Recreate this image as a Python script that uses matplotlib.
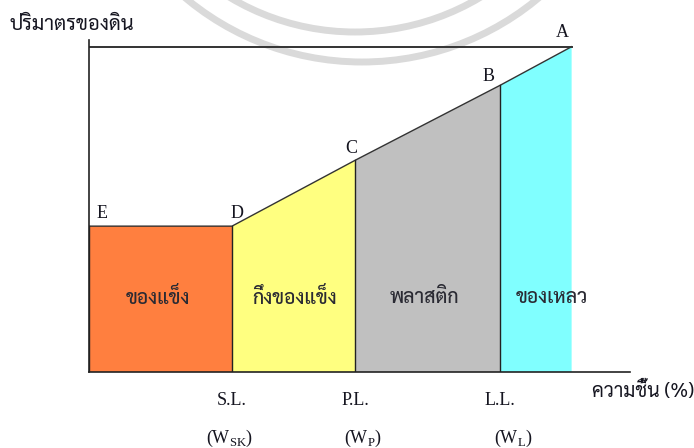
import matplotlib
matplotlib.use("Agg")
import matplotlib.pyplot as plt
from matplotlib.patches import Arc

# points E, D, C, B, A  (moisture, soil volume)
point_names = ['E', 'D', 'C', 'B', 'A']
moisture = [0, 20, 37.2, 57.5, 67.5]
volume = [20.4, 20.4, 29.6, 40.1, 45.5]
# label offsets from each point, in pixels
name_offsets = [(13, 13), (5, 13), (-4, 12), (-12, 9), (-9, 14)]

# states between the points
states = ['ของแข็ง', 'กึ่งของแข็ง', 'พลาสติก', 'ของเหลว']
state_colors = ['#ff7f3f', '#ffff80', '#c0c0c0', '#80ffff']
state_shift = [-3, 1, -3, 16]

limit_labels = ['S.L.', 'P.L.', 'L.L.']
limit_symbols = [r'(W$_{\mathregular{SK}}$)', r'(W$_{\mathregular{P}}$)', r'(W$_{\mathregular{L}}$)']
symbol_shift = [-2, 8, 13]

THAI = ['Sarabun', 'DejaVu Sans']
SERIF = ['Liberation Serif', 'DejaVu Serif']
PX = 0.72  # points per pixel at dpi 100

W, H = 694, 448
fig = plt.figure(figsize=(W / 100, H / 100), dpi=100)

# faint watermark arcs in the background
wm = fig.add_axes([0, 0, 1, 1], zorder=-1)
wm.set_xlim(0, W)
wm.set_ylim(H, 0)
wm.axis('off')
wm.add_patch(Arc((362, -210), 548, 544, theta1=0, theta2=180, color='#dadada', lw=5))
wm.add_patch(Arc((355, -210), 486, 484, theta1=0, theta2=180, color='#dadada', lw=5))

ax = fig.add_axes([89 / W, (448 - 372) / H, (630 - 89) / W, (372 - 40) / H])
ax.patch.set_alpha(0)
xmax = 541 / 7.15
ymax = 332 / 7.15
ax.set_xlim(0, xmax)
ax.set_ylim(0, ymax)

for i, (name, col) in enumerate(zip(states, state_colors)):
    x0, x1 = moisture[i], moisture[i + 1]
    y0, y1 = volume[i], volume[i + 1]
    ax.fill([x0, x1, x1, x0], [0, 0, y1, y0], color=col, lw=0, zorder=1)
    ax.annotate(name, ((x0 + x1) / 2, 10.4), xytext=(state_shift[i] * PX, 0),
                textcoords='offset points', ha='center', va='center',
                fontsize=14, family=THAI, weight='medium', color='#2a2a33', zorder=3)

# outline of the curve and the boundaries
ax.plot(moisture, volume, color='#333333', lw=1.0, zorder=2)
for i in range(0, 4):
    ax.plot([moisture[i], moisture[i]], [0, volume[i]], color='#222222', lw=1.0, zorder=2)
ax.plot([0, moisture[-1]], [volume[-1], volume[-1]], color='#333333', lw=1.4, zorder=2)

for name, x, y, (dx, dy) in zip(point_names, moisture, volume, name_offsets):
    ax.annotate(name, (x, y), xytext=(dx * PX, dy * PX), textcoords='offset points',
                ha='center', va='center', fontsize=13, family=SERIF,
                color='#151520', zorder=3)

for lab, sym, x, sh in zip(limit_labels, limit_symbols, moisture[1:4], symbol_shift):
    ax.annotate(lab, (x, 0), xytext=(0, -28 * PX), textcoords='offset points',
                ha='center', va='center', fontsize=13, family=SERIF,
                color='#151520', annotation_clip=False)
    ax.annotate(sym, (x, 0), xytext=(sh * PX, -66 * PX), textcoords='offset points',
                ha='center', va='center', fontsize=13, family=SERIF,
                color='#151520', annotation_clip=False)

ax.annotate('ความชื้น (%)', (xmax, 0), xytext=(-38 * PX, -19 * PX), textcoords='offset points',
            ha='left', va='center', fontsize=14, family=THAI, color='#151520',
            annotation_clip=False)
fig.text(10 / W, 1 - 25 / H, 'ปริมาตรของดิน', ha='left', va='center', fontsize=14.5,
         family=THAI, color='#151520')

for side in ['top', 'right']:
    ax.spines[side].set_visible(False)
for side in ['left', 'bottom']:
    ax.spines[side].set_linewidth(1.2)
    ax.spines[side].set_color('#222222')
ax.set_xticks([])
ax.set_yticks([])

fig.savefig('out.png', dpi=100)
